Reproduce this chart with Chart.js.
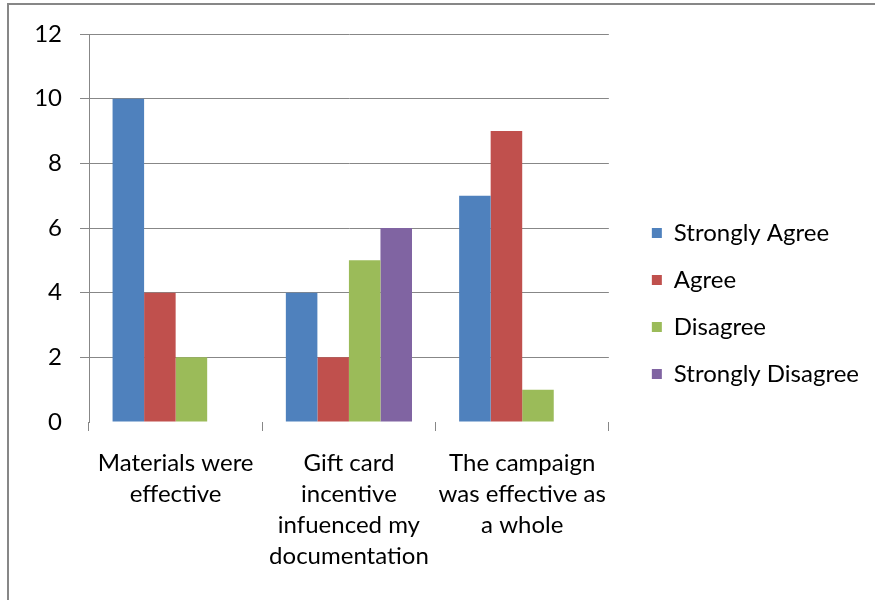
<!DOCTYPE html>
<html>
<head>
<meta charset="utf-8">
<script src="https://cdn.jsdelivr.net/npm/chart.js@4/dist/chart.umd.min.js"></script>
<style>
  html, body { margin: 0; padding: 0; overflow: hidden; background: #fff; }
  #frame { position: absolute; left: 7px; top: 3px; width: 1000px; height: 800px; border: 2px solid #878787; }
  #c { position: absolute; left: 0; top: 0; }
</style>
</head>
<body>
<div id="frame"></div>
<canvas id="c" width="875" height="600"></canvas>
<script>
const categories = [
  ["Materials were", "effective"],
  ["Gift card", "incentive", "infuenced my", "documentation"],
  ["The campaign", "was effective as", "a whole"]
];
const seriesNames = ["Strongly Agree", "Agree", "Disagree", "Strongly Disagree"];
const stronglyAgree = [10, 4, 7];
const agree = [4, 2, 9];
const disagree = [2, 5, 1];
const stronglyDisagree = [0, 6, 0];
const seriesColors = ["#4F81BD", "#C0504D", "#9BBB59", "#8064A2"];
const yTicks = [0, 2, 4, 6, 8, 10, 12];

const FONT = "Lato";
const FS = 24;
const GRID = "#878787";
const seriesValues = [stronglyAgree, agree, disagree, stronglyDisagree];

new Chart(document.getElementById("c"), {
  type: "bar",
  data: {
    labels: categories,
    datasets: seriesNames.map((n, i) => ({
      label: n,
      data: seriesValues[i],
      backgroundColor: seriesColors[i],
      borderWidth: 0,
      categoryPercentage: 0.728,
      barPercentage: 1
    }))
  },
  options: {
    responsive: false,
    animation: false,
    layout: { padding: { left: 0, top: 34, right: 6, bottom: 27 } },
    plugins: {
      tooltip: { enabled: false },
      legend: {
        position: "right",
        maxWidth: 400,
        labels: {
          boxWidth: 10,
          boxHeight: 10,
          padding: 23,
          color: "#000",
          font: { family: FONT, size: FS }
        }
      }
    },
    scales: {
      x: {
        offset: true,
        grid: { offset: true, drawOnChartArea: false, tickLength: 9, color: GRID, lineWidth: 1 },
        border: { display: false },
        ticks: { color: "#000", font: { family: FONT, size: FS, lineHeight: 31 / FS }, padding: 17, maxRotation: 0, autoSkip: false },
        afterFit: s => { s.height = 151; }
      },
      y: {
        min: 0, max: 12,
        afterBuildTicks: s => { s.ticks = yTicks.map(v => ({ value: v })); },
        grid: {
          tickLength: 9,
          lineWidth: 1,
          color: c => (c.tick && c.tick.value === 0) ? "rgba(0,0,0,0)" : GRID
        },
        border: { display: true, color: GRID, width: 1 },
        ticks: { color: "#000", font: { family: FONT, size: FS }, padding: 18 },
        afterFit: s => { s.width = 89; }
      },
      y2: {
        position: "right",
        display: true,
        grid: { display: false },
        border: { display: false },
        ticks: { display: false },
        afterFit: s => { s.width = 20; }
      }
    }
  }
});
</script>
</body>
</html>
